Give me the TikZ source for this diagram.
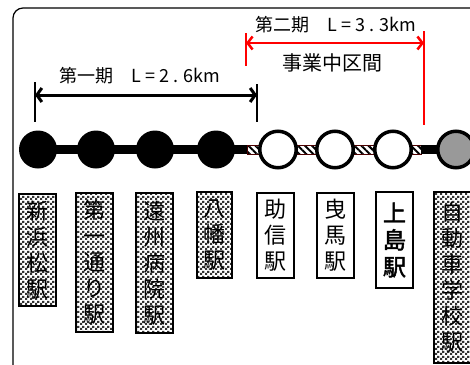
\documentclass[tikz,border=0pt]{standalone}
\usepackage{fontspec}
\newfontfamily\cjk[AutoFakeBold=2]{Noto Sans CJK JP}
\usetikzlibrary{arrows.meta,patterns,patterns.meta,backgrounds}
\pgfdeclarepatternformonly{finechk}{\pgfqpoint{0pt}{0pt}}{\pgfqpoint{5pt}{5pt}}{\pgfqpoint{5pt}{5pt}}{%
  \pgfpathrectangle{\pgfqpoint{0pt}{0pt}}{\pgfqpoint{2.5pt}{2.5pt}}%
  \pgfpathrectangle{\pgfqpoint{2.5pt}{2.5pt}}{\pgfqpoint{2.5pt}{2.5pt}}%
  \pgfusepath{fill}}
\tikzset{
  blackst/.style={circle, fill=black, minimum size=38pt, inner sep=0pt},
  openst/.style={circle, draw=black, line width=3.5pt, fill=white, minimum size=36.5pt, inner sep=0pt},
  grayst/.style={openst, fill=black!40},
  stbox/.style={draw, line width=1.3pt, minimum width=37pt, inner sep=0pt, align=center,
    font=\cjk\fontsize{22}{26}\selectfont},
  chkbox/.style={stbox, preaction={fill=white}, pattern=finechk, pattern color=black!80},
  track/.style={line width=9pt, black},
  hatchtrack/.style={draw=black!70!red, line width=0.5pt, preaction={fill=white},
    pattern={Lines[angle=-45,distance=5pt,line width=2pt]}, pattern color=black},
  blkarrow/.style={line width=3pt, {Straight Barb[length=5pt,width=14pt]}-{Straight Barb[length=5pt,width=14pt]}},
  redarrow/.style={line width=2.5pt, red, {Straight Barb[length=5pt,width=13pt]}-{Straight Barb[length=5pt,width=13pt]}},
  blktick/.style={line width=1.3pt, black},
  redtick/.style={line width=1.3pt, red},
  lentext/.style={font=\cjk\fontsize{18}{20}\selectfont, inner sep=0pt},
}
\begin{document}
\begin{tikzpicture}[x=1pt,y=-1pt]
\useasboundingbox (0,0) rectangle (470,364);
\clip (0,0) rectangle (470,364);
% frame
\draw[line width=1.2pt, rounded corners=10pt] (13,8) rectangle (500,420);

% stations
\node[blackst] (s1) at (38,149.5) {};
\node[blackst] (s2) at (96,149.5) {};
\node[blackst] (s3) at (155,149.5) {};
\node[blackst] (s4) at (216,149.5) {};
\node[openst] (s5) at (278,149.5) {};
\node[openst] (s6) at (335,149.5) {};
\node[openst] (s7) at (393,149.5) {};
\node[grayst] (s8) at (456,149.5) {};
\coordinate (h1) at (247,149.5);
\coordinate (h2) at (421,149.5);

\begin{pgfonlayer}{background}
\draw[track] (s1.center) -- (h1);
\path[hatchtrack] ([yshift=-4.5pt]h1) rectangle ([yshift=4.5pt]h2);
\draw[track] (h2) -- (s8.center);
\end{pgfonlayer}

% dimension arrows
\coordinate (b1) at (35,95);
\coordinate (b2) at (257,95);
\coordinate (b1t) at (35,82);
\coordinate (b1b) at (35,122);
\coordinate (b2t) at (257,84);
\coordinate (b2b) at (257,122);
\draw[blktick] (b1t) -- (b1b);
\draw[blktick] (b2t) -- (b2b);
\draw[blkarrow] (b1) -- (b2);
\node[lentext] (l1) at (140,76) {第一期　L = 2 . 6km};

\coordinate (r1) at (246,43);
\coordinate (r2) at (424,43);
\coordinate (r1t) at (246,33);
\coordinate (r1b) at (246,66);
\coordinate (r2t) at (424,31);
\coordinate (r2b) at (424,125);
\draw[redtick] (r1t) -- (r1b);
\draw[redtick] (r2t) -- (r2b);
\draw[redarrow] (r1) -- (r2);
\node[lentext] (l2) at (336,25) {第二期　L = 3 . 3km};
\node[font=\cjk\fontsize{20}{22}\selectfont, inner sep=0pt] (l3) at (332,63) {事業中区間};

% station name boxes
\node[chkbox, minimum height=112pt] (n1) at (37.5,250) {新\\浜\\松\\駅};
\node[chkbox, minimum height=139pt] (n2) at (94.5,262.5) {第\\一\\通\\り\\駅};
\node[chkbox, minimum height=140pt] (n3) at (154.5,263) {遠\\州\\病\\院\\駅};
\node[chkbox, minimum height=86pt, minimum width=35pt] (n4) at (214.5,235) {八\\幡\\駅};
\node[stbox, minimum height=85pt] (n5) at (275.5,235.5) {助\\信\\駅};
\node[stbox, minimum height=85pt] (n6) at (335.5,235.5) {曳\\馬\\駅};
\node[stbox, minimum height=96pt, font=\cjk\bfseries\fontsize{23}{27}\selectfont] (n7) at (394.5,240) {上\\島\\駅};
\node[chkbox, minimum height=171pt] (n8) at (452.5,277.5) {自\\動\\車\\学\\校\\駅};
\end{tikzpicture}
\end{document}
